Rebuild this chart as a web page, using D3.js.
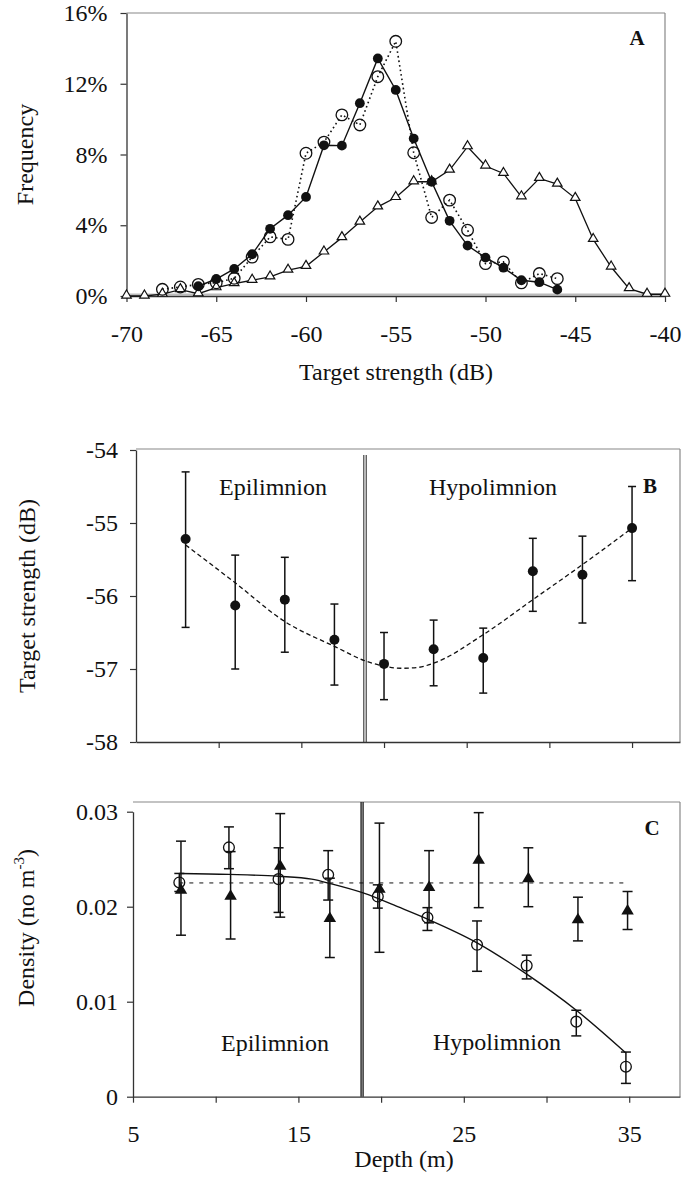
<!DOCTYPE html>
<html><head><meta charset="utf-8">
<script src="https://cdn.jsdelivr.net/npm/d3@7"></script>
<style>body{margin:0;background:#fff} svg{display:block}</style>
</head><body><svg id="c" width="694" height="1183"></svg>
<script>
// ---------- Panel A data (frequency %, by target strength dB) ----------
const filledTS   = [-66,-65,-64,-63,-62,-61,-60,-59,-58,-57,-56,-55,-54,-53,-52,-51,-50,-49,-48,-47,-46];
const filledFreq = [0.55,0.96,1.53,2.36,3.8,4.57,5.6,8.52,8.5,10.9,13.43,11.65,8.9,6.46,4.25,2.85,2.17,1.6,0.89,0.78,0.36];
const openTS     = [-68,-67,-66,-65,-64,-63,-62,-61,-60,-59,-58,-57,-56,-55,-54,-53,-52,-51,-50,-49,-48,-47,-46];
const openFreq   = [0.38,0.51,0.66,0.75,1.0,2.2,3.34,3.2,8.07,8.7,10.24,9.67,12.4,14.4,8.1,4.44,5.42,3.72,1.83,1.93,0.74,1.27,0.98];
const triTS      = [-70,-69,-68,-67,-66,-65,-64,-63,-62,-61,-60,-59,-58,-57,-56,-55,-54,-53,-52,-51,-50,-49,-48,-47,-46,-45,-44,-43,-42,-41,-40];
const triFreq    = [0,0,0.1,0.36,0.13,0.47,0.7,0.89,1.08,1.46,1.68,2.49,3.3,4.18,5.04,5.57,6.46,6.46,7.12,8.44,7.35,6.93,5.61,6.65,6.33,5.52,3.2,1.64,0.42,0.1,0.1];
const xTicksA = [-70,-65,-60,-55,-50,-45,-40];
const yTicksA = [0,4,8,12,16];

// ---------- Panel B data (mean TS by depth) ----------
const depthB = [8,11,14,17,20,23,26,29,32,35];
const tsB    = [-55.22,-56.13,-56.05,-56.6,-56.93,-56.73,-56.85,-55.66,-55.71,-55.07];
const tsBhi  = [-54.30,-55.44,-55.47,-56.11,-56.5,-56.33,-56.44,-55.21,-55.18,-54.5];
const tsBlo  = [-56.43,-57.0,-56.77,-57.22,-57.42,-57.23,-57.33,-56.21,-56.37,-55.79];
const fitBdepth = [8,11,14,17,19,20,21,22,23,26,29,32,35];
const fitBts    = [-55.3,-55.82,-56.35,-56.69,-56.9,-56.96,-56.99,-56.98,-56.92,-56.53,-56.05,-55.57,-55.07];
const yTicksB = [-58,-57,-56,-55,-54];
const xTicksB = [10,15,20,25,30,35];

// ---------- Panel C data (density by depth) ----------
const depthC  = [7.8,10.8,13.8,16.8,19.8,22.8,25.8,28.8,31.8,34.8];
const circC   = [0.02255,0.02624,0.0229,0.02336,0.02107,0.01886,0.01599,0.0138,0.0079,0.00316];
const circChi = [0.0235,0.0284,0.0262,0.0259,0.0223,0.0199,0.0185,0.0149,0.0091,0.0047];
const circClo = [0.0216,0.0240,0.0194,0.0207,0.01985,0.0175,0.0132,0.0124,0.0064,0.0014];
const triC    = [0.02178,0.02115,0.02431,0.0188,0.02189,0.02206,0.02494,0.0230,0.01869,0.0196];
const triChi  = [0.0269,0.0258,0.0298,0.0230,0.0288,0.0259,0.0299,0.0262,0.0210,0.0216];
const triClo  = [0.0170,0.0166,0.0189,0.01465,0.0152,0.0183,0.0199,0.0200,0.0164,0.0176];
const fitCdepth = [7.8,10.8,13.8,15.8,17,19,21,22.8,25.8,28.8,31.8,34.8];
const fitCval   = [0.0235,0.0234,0.0232,0.0229,0.0224,0.0214,0.0200,0.0187,0.0162,0.0129,0.0091,0.0046];
const meanTriC = 0.0225;
const yTicksC = [0,0.01,0.02,0.03];
const xTicksC = [5,10,15,20,25,30,35];
const xLabelsC = [5,15,25,35];
const thermocline = 18.85;

// ---------- drawing ----------
const font = '"Liberation Serif","Times New Roman",Times,serif';
const svg = d3.select('#c');
const INK = '#111';

function frame(g, L, R, T, B) {
  g.append('line').attr('x1',L).attr('x2',R).attr('y1',T).attr('y2',T).attr('stroke','#888').attr('stroke-width',1.2);
  g.append('line').attr('x1',R).attr('x2',R).attr('y1',T).attr('y2',B).attr('stroke','#888').attr('stroke-width',1.2);
}
function styleAxis(sel) {
  sel.attr('font-family',font).attr('font-size',24);
  sel.select('.domain').attr('stroke','#333').attr('stroke-width',1.3);
  sel.selectAll('.tick line').attr('stroke','#333').attr('stroke-width',1.2);
  sel.selectAll('.tick text').attr('fill',INK);
}
function triPath(w,h){ return `M0,${-h*0.62}L${w/2},${h*0.38}L${-w/2},${h*0.38}Z`; }
function label(g, txt, x, y, opts={}) {
  return g.append('text').attr('x',x).attr('y',y).attr('text-anchor',opts.anchor||'middle')
    .attr('font-family',font).attr('font-size',opts.size||24).attr('font-weight',opts.weight||'normal')
    .attr('fill',INK).text(txt);
}

// ===== Panel A =====
const A = {l:126.5, r:665, t:13, b:296};
const xA = d3.scaleLinear().domain([-70,-40]).range([A.l,A.r]);
const yA = d3.scaleLinear().domain([0,16]).range([A.b,A.t]);
const gA = svg.append('g');
frame(gA, A.l, A.r, A.t, A.b);
gA.append('line').attr('x1',A.l).attr('x2',A.r).attr('y1',A.b-1.5).attr('y2',A.b-1.5).attr('stroke','#bbb').attr('stroke-width',2);
gA.append('g').attr('transform',`translate(0,${A.b})`)
  .call(d3.axisBottom(xA).tickValues(xTicksA).tickSize(6).tickSizeOuter(0).tickPadding(23).tickFormat(d=>String(d)))
  .call(styleAxis);
gA.append('g').attr('transform',`translate(${A.l},0)`)
  .call(d3.axisLeft(yA).tickValues(yTicksA).tickSize(6).tickSizeOuter(0).tickPadding(13).tickFormat(d=>d+'%'))
  .call(styleAxis);

const lineA = d3.line().x(d=>xA(d[0])).y(d=>yA(d[1]));
const triA = triTS.map((t,i)=>[t,triFreq[i]]);
const filA = filledTS.map((t,i)=>[t,filledFreq[i]]);
const opA = openTS.map((t,i)=>[t,openFreq[i]]);
gA.append('path').datum(triA).attr('d',lineA).attr('fill','none').attr('stroke',INK).attr('stroke-width',1.3);
gA.append('path').datum(filA).attr('d',lineA).attr('fill','none').attr('stroke',INK).attr('stroke-width',1.4);
gA.append('path').datum(opA).attr('d',lineA).attr('fill','none').attr('stroke',INK).attr('stroke-width',1.6).attr('stroke-dasharray','1.6,3');
gA.selectAll('.triA').data(triA).join('path').attr('d',triPath(9.5,8))
  .attr('transform',d=>`translate(${xA(d[0])},${yA(d[1])-1})`).attr('fill','#fff').attr('stroke',INK).attr('stroke-width',1.2);
gA.selectAll('.opA').data(opA).join('circle').attr('cx',d=>xA(d[0])).attr('cy',d=>yA(d[1])).attr('r',5.8)
  .attr('fill','none').attr('stroke',INK).attr('stroke-width',1.3);
gA.selectAll('.filA').data(filA).join('circle').attr('cx',d=>xA(d[0])).attr('cy',d=>yA(d[1])).attr('r',4.9).attr('fill',INK);
label(gA,'A',637,45,{size:21,weight:'bold'});
label(gA,'Target strength (dB)',396,380);
gA.append('text').attr('transform',`translate(33,${(A.t+A.b)/2}) rotate(-90)`).attr('text-anchor','middle')
  .attr('font-family',font).attr('font-size',24).attr('fill',INK).text('Frequency');

// ===== Panel B =====
const B = {l:136, r:680, t:449, b:742};
const xB = d3.scaleLinear().domain([5,37.9]).range([B.l,B.r]);
const yB = d3.scaleLinear().domain([-58,-54]).range([B.b,450]);
const gB = svg.append('g');
frame(gB, B.l, B.r, B.t, B.b);
gB.append('g').attr('transform',`translate(0,${B.b})`)
  .call(d3.axisBottom(xB).tickValues(xTicksB).tickSize(6).tickSizeOuter(0).tickFormat(()=>''))
  .call(styleAxis);
gB.append('g').attr('transform',`translate(${B.l},0)`)
  .call(d3.axisLeft(yB).tickValues(yTicksB).tickSize(6).tickSizeOuter(0).tickPadding(12).tickFormat(d=>String(d)))
  .call(styleAxis);
[-1.2,1.2].forEach(o=>gB.append('line').attr('x1',xB(thermocline)+o).attr('x2',xB(thermocline)+o)
  .attr('y1',455).attr('y2',B.b).attr('stroke','#333').attr('stroke-width',1.1));
const fitB = fitBdepth.map((d,i)=>[d,fitBts[i]]);
gB.append('path').datum(fitB).attr('d',d3.line().curve(d3.curveMonotoneX).x(d=>xB(d[0])).y(d=>yB(d[1])))
  .attr('fill','none').attr('stroke',INK).attr('stroke-width',1.3).attr('stroke-dasharray','4.5,3');
const ptsB = depthB.map((d,i)=>({d, v:tsB[i], hi:tsBhi[i], lo:tsBlo[i]}));
const eb = gB.selectAll('.ebB').data(ptsB).join('g');
eb.append('line').attr('x1',p=>xB(p.d)).attr('x2',p=>xB(p.d)).attr('y1',p=>yB(p.hi)).attr('y2',p=>yB(p.lo)).attr('stroke',INK).attr('stroke-width',1.5);
eb.append('line').attr('x1',p=>xB(p.d)-4).attr('x2',p=>xB(p.d)+4).attr('y1',p=>yB(p.hi)).attr('y2',p=>yB(p.hi)).attr('stroke',INK).attr('stroke-width',1.5);
eb.append('line').attr('x1',p=>xB(p.d)-4).attr('x2',p=>xB(p.d)+4).attr('y1',p=>yB(p.lo)).attr('y2',p=>yB(p.lo)).attr('stroke',INK).attr('stroke-width',1.5);
eb.append('circle').attr('cx',p=>xB(p.d)).attr('cy',p=>yB(p.v)).attr('r',5).attr('fill',INK);
label(gB,'Epilimnion',273,495);
label(gB,'Hypolimnion',493,495);
label(gB,'B',650,493,{size:21,weight:'bold'});
gB.append('text').attr('transform',`translate(35,${(450+B.b)/2}) rotate(-90)`).attr('text-anchor','middle')
  .attr('font-family',font).attr('font-size',24).attr('fill',INK).text('Target strength (dB)');

// ===== Panel C =====
const C = {l:133, r:680, t:802, b:1096.7};
const xC = d3.scaleLinear().domain([5,38.07]).range([C.l,C.r]);
const yC = d3.scaleLinear().domain([0,0.03]).range([C.b,811.7]);
const gC = svg.append('g');
frame(gC, C.l, C.r, C.t, C.b);
gC.append('g').attr('transform',`translate(0,${C.b})`)
  .call(d3.axisBottom(xC).tickValues(xTicksC).tickSize(6).tickSizeOuter(0).tickPadding(22).tickFormat(d=>xLabelsC.includes(d)?String(d):''))
  .call(styleAxis);
gC.append('g').attr('transform',`translate(${C.l},0)`)
  .call(d3.axisLeft(yC).tickValues(yTicksC).tickSize(6).tickSizeOuter(0).tickPadding(9).tickFormat(d=>d===0?'0':d3.format('.2f')(d)))
  .call(styleAxis);
[-1,1].forEach(o=>gC.append('line').attr('x1',xC(thermocline)+o).attr('x2',xC(thermocline)+o)
  .attr('y1',C.t).attr('y2',C.b).attr('stroke','#222').attr('stroke-width',1.4));
gC.append('line').attr('x1',xC(depthC[0])).attr('x2',xC(depthC[depthC.length-1])).attr('y1',yC(meanTriC)).attr('y2',yC(meanTriC))
  .attr('stroke',INK).attr('stroke-width',1).attr('stroke-dasharray','4,6');
const fitC = fitCdepth.map((d,i)=>[d,fitCval[i]]);
gC.append('path').datum(fitC).attr('d',d3.line().curve(d3.curveMonotoneX).x(d=>xC(d[0])).y(d=>yC(d[1])))
  .attr('fill','none').attr('stroke',INK).attr('stroke-width',1.4);
function errBars(g, pts) {
  const e = g.selectAll(null).data(pts).join('g');
  e.append('line').attr('x1',p=>xC(p.d)).attr('x2',p=>xC(p.d)).attr('y1',p=>yC(p.hi)).attr('y2',p=>yC(p.lo)).attr('stroke',INK).attr('stroke-width',1.5);
  e.append('line').attr('x1',p=>xC(p.d)-5).attr('x2',p=>xC(p.d)+5).attr('y1',p=>yC(p.hi)).attr('y2',p=>yC(p.hi)).attr('stroke',INK).attr('stroke-width',1.5);
  e.append('line').attr('x1',p=>xC(p.d)-5).attr('x2',p=>xC(p.d)+5).attr('y1',p=>yC(p.lo)).attr('y2',p=>yC(p.lo)).attr('stroke',INK).attr('stroke-width',1.5);
}
const triPts = depthC.map((d,i)=>({d: d+0.1, v:triC[i], hi:triChi[i], lo:triClo[i]}));
const cirPts = depthC.map((d,i)=>({d, v:circC[i], hi:circChi[i], lo:circClo[i]}));
errBars(gC, triPts);
errBars(gC, cirPts);
gC.selectAll('.triC').data(triPts).join('path').attr('d',triPath(12.5,10.5))
  .attr('transform',p=>`translate(${xC(p.d)},${yC(p.v)})`).attr('fill',INK);
gC.selectAll('.cirC').data(cirPts).join('circle').attr('cx',p=>xC(p.d)).attr('cy',p=>yC(p.v)).attr('r',5.4)
  .attr('fill','none').attr('stroke',INK).attr('stroke-width',1.3);
label(gC,'Epilimnion',275,1051);
label(gC,'Hypolimnion',497,1050);
label(gC,'C',652,835,{size:21,weight:'bold'});
label(gC,'Depth (m)',404,1167);
const yl = gC.append('text').attr('transform',`translate(34,928) rotate(-90)`).attr('text-anchor','middle')
  .attr('font-family',font).attr('font-size',24).attr('fill',INK);
yl.append('tspan').text('Density (no m');
yl.append('tspan').attr('font-size',15).attr('dy',-10).text('-3');
yl.append('tspan').attr('dy',10).text(')');
</script></body></html>
